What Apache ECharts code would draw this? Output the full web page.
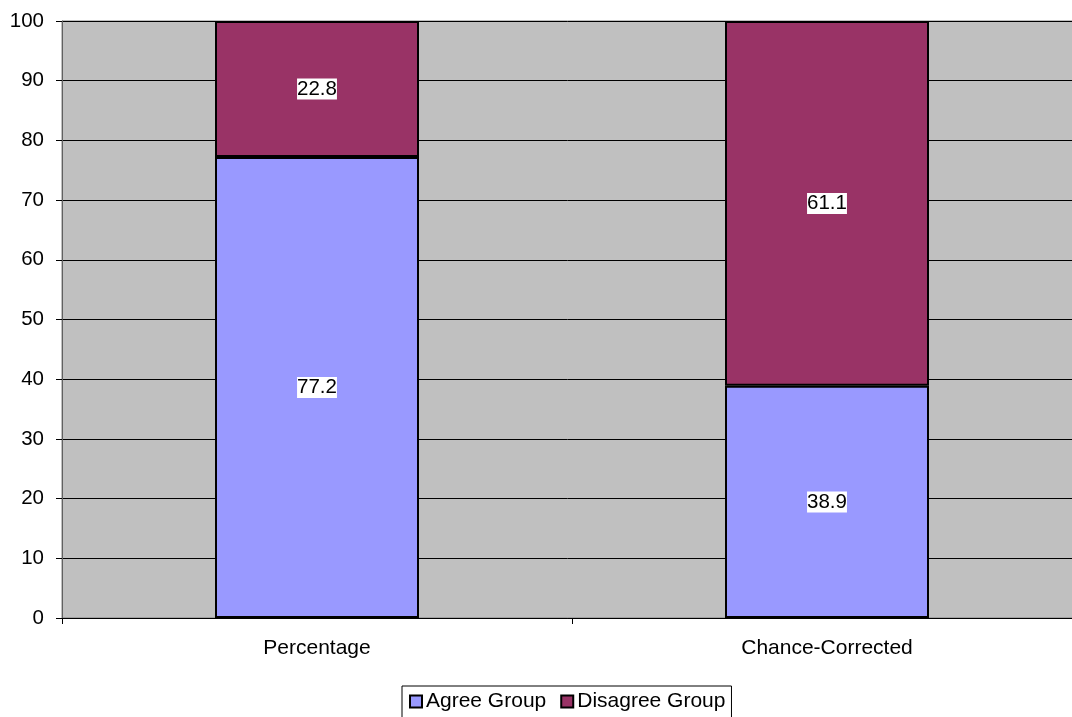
<!DOCTYPE html>
<html>
<head>
<meta charset="utf-8">
<script src="https://cdn.jsdelivr.net/npm/echarts@6/dist/echarts.min.js"></script>
<style>
  html, body { margin: 0; padding: 0; background: #fff; }
  #chart { width: 1072px; height: 717px; }
</style>
</head>
<body>
<div id="chart"></div>
<script>
// data
const categories = ['Percentage', 'Chance-Corrected'];
const agreeValues = [77.2, 38.9];
const disagreeValues = [22.8, 61.1];
const seriesNames = ['Agree Group', 'Disagree Group'];

const chart = echarts.init(document.getElementById('chart'));

const labelStyle = {
  show: true,
  position: 'inside',
  color: '#000',
  fontFamily: 'Liberation Sans, Arial, sans-serif',
  fontSize: 20.5,
  lineHeight: 20,
  backgroundColor: '#fff',
  padding: [1, 0, 0, 0],
  formatter: p => p.value.toFixed(1)
};

chart.setOption({
  animation: false,
  backgroundColor: '#fff',
  textStyle: { fontFamily: 'Liberation Sans, Arial, sans-serif' },
  // plot runs a little past the right edge of the canvas, like the original
  grid: {
    left: 62, right: -10, top: 21, bottom: 99,
    outerBoundsMode: 'none',
    show: true,
    backgroundColor: '#c0c0c0',
    borderColor: '#808080',
    borderWidth: 1
  },
  legend: {
    data: seriesNames,
    icon: 'rect',
    left: 402,
    top: 686,
    itemWidth: 12,
    itemHeight: 12,
    itemGap: 14,
    padding: [5, 6, 12, 7],
    borderColor: '#000',
    borderWidth: 1,
    textStyle: { color: '#000', fontSize: 21, padding: [0, 0, 0, -1] },
    itemStyle: { borderColor: '#000', borderWidth: 2 }
  },
  xAxis: {
    type: 'category',
    data: categories,
    boundaryGap: true,
    axisLine: { lineStyle: { color: '#000', width: 1 } },
    axisTick: { show: true, length: 6, lineStyle: { color: '#000' } },
    axisLabel: { color: '#000', fontSize: 21, margin: 20 }
  },
  yAxis: {
    type: 'value',
    min: 0,
    max: 100,
    interval: 10,
    axisLine: { show: true, lineStyle: { color: '#606060', width: 1 } },
    axisTick: { show: true, length: 6, lineStyle: { color: '#000' } },
    axisLabel: { color: '#000', fontSize: 20.5, margin: 18 },
    splitLine: { show: true, lineStyle: { color: '#000', width: 1 } }
  },
  series: [
    {
      name: seriesNames[0],
      type: 'bar',
      stack: 'total',
      data: agreeValues,
      barWidth: '40%',
      itemStyle: { color: '#9999ff', borderColor: '#000', borderWidth: 2 },
      label: labelStyle
    },
    {
      name: seriesNames[1],
      type: 'bar',
      stack: 'total',
      data: disagreeValues,
      barWidth: '40%',
      itemStyle: { color: '#993366', borderColor: '#000', borderWidth: 2 },
      label: labelStyle
    }
  ]
});
</script>
</body>
</html>
